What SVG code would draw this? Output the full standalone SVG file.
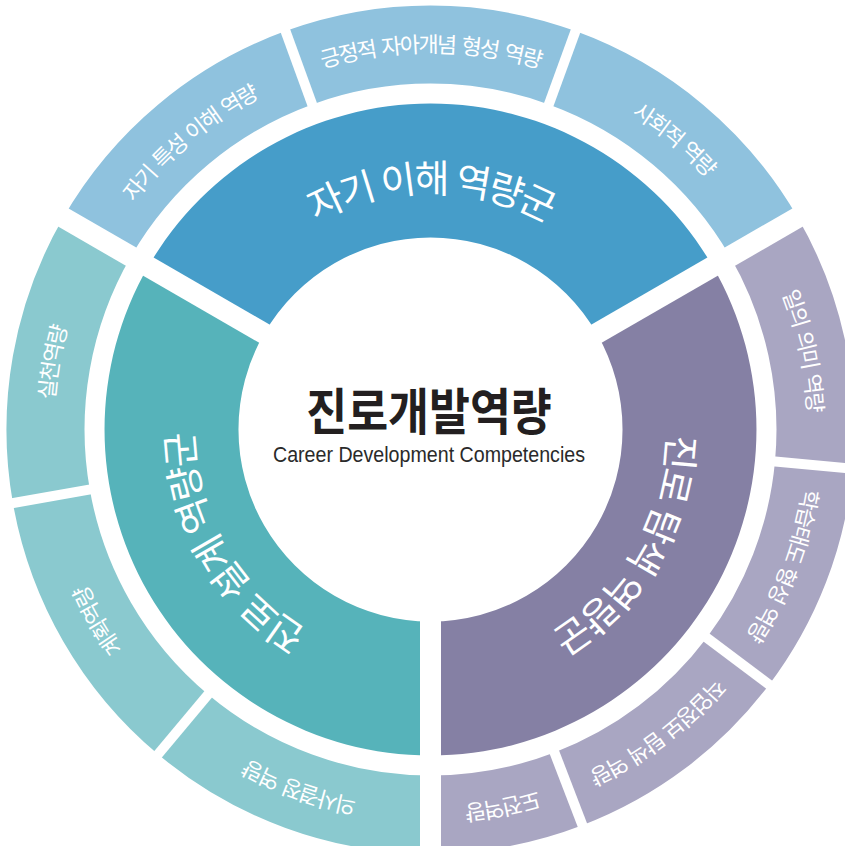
<svg xmlns="http://www.w3.org/2000/svg" width="845" height="846" viewBox="0 0 845 846">
<defs>
<style>
.lbl-in { font-family: "Noto Sans CJK KR", "Noto Sans", sans-serif; font-size: 38px; fill: #ffffff; letter-spacing: -3px; word-spacing: 2px; }
.lbl-out { font-family: "Noto Sans CJK KR", "Noto Sans", sans-serif; font-size: 22px; fill: #ffffff; letter-spacing: -2px; word-spacing: 3px; }
.in-top { fill: #469dc9; }
.in-left { fill: #56b3ba; }
.in-right { fill: #8580a4; }
.out-top { fill: #8fc2de; }
.out-left { fill: #8ac9cf; }
.out-right { fill: #a9a6c2; }
.gap-major { stroke: #ffffff; stroke-width: 21; }
.gap-minor { stroke: #ffffff; stroke-width: 10; }
.title { font-family: "Noto Sans CJK KR", sans-serif; font-size: 50px; font-weight: 700; fill: #231f20; }
.sub { font-family: "Liberation Sans", Arial, sans-serif; font-size: 21.5px; fill: #2a2a2a; }
</style>
<path id="p-in-top" d="M 193.5 429.5 A 237 237 0 0 1 667.5 429.5"/>
<path id="p-in-left" d="M 549 634.75 A 237 237 0 0 1 312 224.25"/>
<path id="p-in-right" d="M 549 224.25 A 237 237 0 0 1 312 634.75"/>
<path id="p-o1" d="M 141.7 671.8 A 377 377 0 0 1 719.3 187.2"/>
<path id="p-o2" d="M 53.5 429.5 A 377 377 0 0 1 807.5 429.5"/>
<path id="p-o3" d="M 141.7 187.2 A 377 377 0 0 1 719.3 671.8"/>
<path id="p-o4" d="M 352.1 60.7 A 377 377 0 0 1 508.9 798.3"/>
<path id="p-o5" d="M 565.6 77.5 A 377 377 0 0 1 295.4 781.5"/>
<path id="p-o6" d="M 731.6 202.6 A 377 377 0 0 1 129.4 656.4"/>
<path id="p-o7" d="M 800.6 357.6 A 377 377 0 0 1 60.4 501.4"/>
<path id="p-o8" d="M 784.8 558.4 A 377 377 0 0 1 76.2 300.6"/>
<path id="p-o9" d="M 619 756 A 377 377 0 0 1 242 103"/>
<path id="p-o10" d="M 365 800.8 A 377 377 0 0 1 496 58.2"/>
</defs>
<rect width="845" height="846" fill="#ffffff"/>

<g id="group-self">
<path class="in-top" d="M 148.2 266.5 A 326 326 0 0 1 712.8 266.5 L 596.8 333.5 A 192 192 0 0 0 264.2 333.5 Z"/>
<text class="lbl-in" text-anchor="middle"><textPath href="#p-in-top" startOffset="50%">자기 이해 역량군</textPath></text>
</g>
<g id="group-design">
<path class="in-left" d="M 430.5 755.5 A 326 326 0 0 1 148.2 266.5 L 264.2 333.5 A 192 192 0 0 0 430.5 621.5 Z"/>
<text class="lbl-in" text-anchor="middle"><textPath href="#p-in-left" startOffset="50%">진로 설계 역량군</textPath></text>
</g>
<g id="group-explore">
<path class="in-right" d="M 712.8 266.5 A 326 326 0 0 1 430.5 755.5 L 430.5 621.5 A 192 192 0 0 0 596.8 333.5 Z"/>
<text class="lbl-in" text-anchor="middle"><textPath href="#p-in-right" startOffset="50%">진로 탐색 역량군</textPath></text>
</g>

<g id="item-self-traits">
<path class="out-top" d="M 63.3 217.5 A 424 424 0 0 1 285.5 31.1 L 312.2 104.4 A 346 346 0 0 0 130.9 256.5 Z"/>
<text class="lbl-out" text-anchor="middle"><textPath href="#p-o1" startOffset="50%">자기 특성 이해 역량</textPath></text>
</g>
<g id="item-self-concept">
<path class="out-top" d="M 285.5 31.1 A 424 424 0 0 1 575.5 31.1 L 548.8 104.4 A 346 346 0 0 0 312.2 104.4 Z"/>
<text class="lbl-out" text-anchor="middle"><textPath href="#p-o2" startOffset="50%">긍정적 자아개념 형성 역량</textPath></text>
</g>
<g id="item-social">
<path class="out-top" d="M 575.5 31.1 A 424 424 0 0 1 797.7 217.5 L 730.1 256.5 A 346 346 0 0 0 548.8 104.4 Z"/>
<text class="lbl-out" text-anchor="middle"><textPath href="#p-o3" startOffset="50%">사회적 역량</textPath></text>
</g>
<g id="item-work-meaning">
<path class="out-right" d="M 797.7 217.5 A 424 424 0 0 1 852.7 468.7 L 775.0 461.5 A 346 346 0 0 0 730.1 256.5 Z"/>
<text class="lbl-out" text-anchor="middle"><textPath href="#p-o4" startOffset="50%">일의 의미 역량</textPath></text>
</g>
<g id="item-learning">
<path class="out-right" d="M 852.7 468.7 A 424 424 0 0 1 769.1 684.7 L 706.8 637.7 A 346 346 0 0 0 775.0 461.5 Z"/>
<text class="lbl-out" text-anchor="middle"><textPath href="#p-o5" startOffset="50%">학습태도 형성 역량</textPath></text>
</g>
<g id="item-job-info">
<path class="out-right" d="M 769.1 684.7 A 424 424 0 0 1 582.4 825.3 L 554.5 752.5 A 346 346 0 0 0 706.8 637.7 Z"/>
<text class="lbl-out" text-anchor="middle"><textPath href="#p-o6" startOffset="50%">직업정보 탐색 역량</textPath></text>
</g>
<g id="item-challenge">
<path class="out-right" d="M 582.4 825.3 A 424 424 0 0 1 430.5 853.5 L 430.5 775.5 A 346 346 0 0 0 554.5 752.5 Z"/>
<text class="lbl-out" text-anchor="middle"><textPath href="#p-o7" startOffset="50%">도전역량</textPath></text>
</g>
<g id="item-decision">
<path class="out-left" d="M 430.5 853.5 A 424 424 0 0 1 158.0 754.3 L 208.1 694.5 A 346 346 0 0 0 430.5 775.5 Z"/>
<text class="lbl-out" text-anchor="middle"><textPath href="#p-o8" startOffset="50%">의사결정 역량</textPath></text>
</g>
<g id="item-planning">
<path class="out-left" d="M 158.0 754.3 A 424 424 0 0 1 12.9 503.1 L 89.8 489.6 A 346 346 0 0 0 208.1 694.5 Z"/>
<text class="lbl-out" text-anchor="middle"><textPath href="#p-o9" startOffset="50%">계획역량</textPath></text>
</g>
<g id="item-action">
<path class="out-left" d="M 12.9 503.1 A 424 424 0 0 1 63.3 217.5 L 130.9 256.5 A 346 346 0 0 0 89.8 489.6 Z"/>
<text class="lbl-out" text-anchor="middle"><textPath href="#p-o10" startOffset="50%">실천역량</textPath></text>
</g>

<g id="separators">
<line class="gap-major" x1="274.6" y1="339.5" x2="49.5" y2="209.5"/>
<line class="gap-major" x1="586.4" y1="339.5" x2="811.5" y2="209.5"/>
<line class="gap-major" x1="430.5" y1="609.5" x2="430.5" y2="869.5"/>
<line class="gap-minor" x1="314.9" y1="111.9" x2="280.0" y2="16.0"/>
<line class="gap-minor" x1="546.1" y1="111.9" x2="581.0" y2="16.0"/>
<line class="gap-minor" x1="767.1" y1="460.7" x2="868.6" y2="470.1"/>
<line class="gap-minor" x1="700.4" y1="632.9" x2="781.9" y2="694.3"/>
<line class="gap-minor" x1="551.6" y1="745.0" x2="588.2" y2="840.3"/>
<line class="gap-minor" x1="213.2" y1="688.4" x2="147.7" y2="766.6"/>
<line class="gap-minor" x1="97.6" y1="488.2" x2="-2.8" y2="505.9"/>
</g>

<g id="center">
<text class="title" text-anchor="middle" transform="translate(429,430) scale(0.89,1)" x="0" y="0">진로개발역량</text>
<text class="sub" text-anchor="middle" x="429" y="462" textLength="312" lengthAdjust="spacingAndGlyphs">Career Development Competencies</text>
</g>
</svg>
